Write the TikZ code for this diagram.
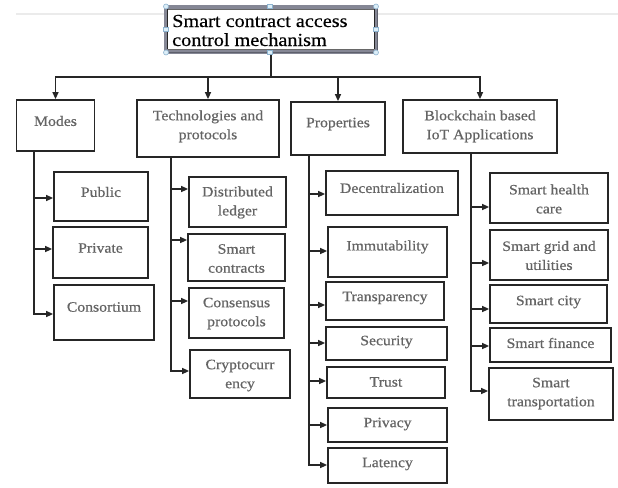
\documentclass[tikz,border=0pt]{standalone}
\usepackage{fontspec}
\setmainfont[FakeStretch=1.1]{Liberation Serif}
\newfontfamily\lblfont[FakeStretch=1.1,FakeBold=0.6]{Liberation Serif}
\newfontfamily\rootfont[FakeStretch=1.1,FakeBold=0.4]{Liberation Serif}
\usetikzlibrary{arrows.meta}
\definecolor{ink}{HTML}{262626}
\definecolor{txt}{HTML}{646464}
\definecolor{framec}{HTML}{858795}
\definecolor{framed}{HTML}{5E606C}
\definecolor{handlef}{HTML}{DCEEF8}
\definecolor{handled}{HTML}{8DB3CF}
\definecolor{pageline}{HTML}{EBEBEB}

% box with its label: name, x1, y1, x2, y2, label centre y, label
\newcommand\bx[7]{%
  \node[box, minimum width={#4-#2}, minimum height={#5-#3}] (#1) at ({(#2+#4)/2},{(#3+#5)/2}) {};
  \node[lbl] (#1-t) at ({(#2+#4)/2},#6) {#7};}
% connector from a parent's trunk (x) to a child at height y
\newcommand\br[4]{\draw[arr] (#1.south -| #2,0) |- (#3.west |- 0,#4);}

\begin{document}
\begin{tikzpicture}[x=1pt,y=-1pt,
  box/.style={draw=ink, line width=1.8pt, fill=white, inner sep=0pt},
  lbl/.style={text=txt, font=\lblfont\fontsize{14.3}{19}\selectfont, align=center, inner sep=0pt},
  arr/.style={draw=ink, line width=1.5pt, -{Triangle[length=7pt,width=6pt]}},
  rnd/.style={circle, draw=handled, fill=handlef, line width=0.6pt, minimum size=5pt, inner sep=0pt},
  sqr/.style={rectangle, draw=handled, fill=handlef, line width=0.6pt, minimum size=4.5pt, inner sep=0pt}]

\useasboundingbox[fill=white] (0,0) rectangle (618,487);
\draw[pageline, line width=1.2pt] (16,14) -- (618,14);

% root box with its selection frame
\node[draw=framec, line width=3.5pt, fill=white, minimum width=210, minimum height=45, inner sep=0pt] (root) at (271,29.5) {};
\draw[framed, line width=1.2pt] (377.5,7) -- (377.5,52.5) -- (165,52.5);
\draw[ink, line width=1pt] (167.5,9.5) -- (167.5,49.5) (374,9.5) -- (374,49.5);
\draw[ink!70, line width=0.8pt] (167.5,9.5) -- (374,9.5) (167.5,49.5) -- (374,49.5);
\node[anchor=west, align=left, inner sep=0pt, font=\rootfont\fontsize{18.4}{19}\selectfont] (root-t) at (172,30.5) {Smart contract access\\control mechanism};
\foreach \n/\p in {a/{166,6.5}, b/{376,6.5}, c/{166,52.5}, d/{376,52.5}}
  \node[rnd] (h\n) at (\p) {};
\foreach \n/\p in {e/{270,6.5}, g/{166,29.5}, h/{376,29.5}}
  \node[sqr] (h\n) at (\p) {};

% first level
\bx{modes}{16.5}{100}{94.5}{151}{121}{Modes}
\bx{tech}{137}{100}{279}{157}{126.3}{Technologies and\\protocols}
\bx{props}{291}{102}{385}{155}{124}{Properties}
\bx{iot}{403}{100}{557}{153}{126.3}{Blockchain based\\IoT Applications}

\foreach \c in {modes,tech,props,iot}
  \draw[arr] (root.south) -- (root.south |- 0,77) -| (\c.north);
\node[sqr] (hf) at (270,52.5) {};

% modes
\bx{public}{54}{172}{148}{221}{192}{Public}
\bx{private}{53}{227}{148}{278}{248}{Private}
\bx{consortium}{54}{285}{154}{340}{307}{Consortium}
\br{modes}{34}{public}{198}
\br{modes}{34}{private}{249}
\br{modes}{34}{consortium}{314}

% technologies and protocols
\bx{ledger}{189}{177}{286}{227}{202.5}{Distributed\\ledger}
\bx{contracts}{188}{234}{285}{281}{258.5}{Smart\\contracts}
\bx{consensus}{189}{288}{284}{338}{313.5}{Consensus\\protocols}
\bx{crypto}{190}{350}{290}{398}{375.5}{Cryptocurr\\ency}
\br{tech}{171}{ledger}{189}
\br{tech}{171}{contracts}{240}
\br{tech}{171}{consensus}{301}
\br{tech}{171}{crypto}{371}

% properties
\bx{decentral}{326}{171}{458}{215}{188}{Decentralization}
\bx{immut}{328}{227}{447}{277}{247}{Immutability}
\bx{transp}{326}{282}{444}{320}{298}{Transparency}
\bx{security}{326}{327}{447}{360}{342}{Security}
\bx{trust}{327}{367}{445}{398}{382}{Trust}
\bx{privacy}{328}{408}{447}{442}{424}{Privacy}
\bx{latency}{328}{448}{447}{483}{464}{Latency}
\br{props}{309}{decentral}{194}
\br{props}{309}{immut}{251}
\br{props}{309}{transp}{305}
\br{props}{309}{security}{343}
\br{props}{309}{trust}{381}
\br{props}{309}{privacy}{425}
\br{props}{309}{latency}{465}

% blockchain based IoT applications
\bx{health}{490}{173}{608}{223}{199}{Smart health\\care}
\bx{grid}{490}{230}{608}{280}{255.5}{Smart grid and\\utilities}
\bx{city}{490}{285}{607}{323}{302}{Smart city}
\bx{finance}{490}{328}{611}{362}{343}{Smart finance}
\bx{transport}{489}{368}{613}{420}{393.5}{Smart\\transportation}
\br{iot}{471}{health}{207}
\br{iot}{471}{grid}{263}
\br{iot}{471}{city}{309}
\br{iot}{471}{finance}{346}
\br{iot}{471}{transport}{391}
\end{tikzpicture}
\end{document}
